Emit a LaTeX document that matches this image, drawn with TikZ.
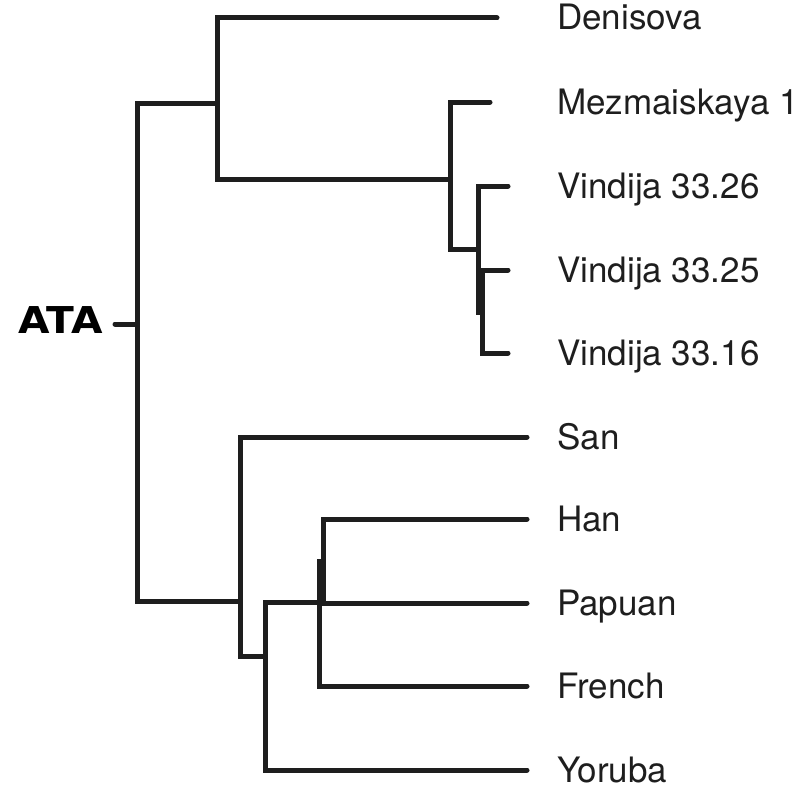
\documentclass[tikz,border=0pt]{standalone}
\usepackage{fontspec}
\setmainfont{TeX Gyre Heros}
\newfontfamily\atafont{DejaVu Sans}
\definecolor{ink}{HTML}{1E1E1E}
\begin{document}
\begin{tikzpicture}[x=1pt,y=-1pt,
  branch/.style={draw=ink,line width=5pt,line cap=round,line join=miter},
  taxon/.style={anchor=base west,inner sep=0pt,text=ink,font=\fontsize{35}{40}\selectfont},
  rootlabel/.style={anchor=base east,inner sep=0pt,text=black,xscale=1.1,font=\atafont\bfseries\fontsize{37}{44}\selectfont}]
\useasboundingbox (0,0) rectangle (806,792);

% tips (branch ends)
\coordinate (den) at (497,18);
\coordinate (mez) at (490,102);
\coordinate (v26) at (508,186);
\coordinate (v25) at (508,270);
\coordinate (v16) at (508,353);
\coordinate (san) at (527,437);
\coordinate (han) at (527,519);
\coordinate (pap) at (527,603);
\coordinate (fre) at (527,686);
\coordinate (yor) at (527,770);

% internal nodes
\coordinate (r)     at (137,324);
\coordinate (a0)    at (115,324);
\coordinate (t)     at (217,103);
\coordinate (nea)   at (450,179);
\coordinate (vin)   at (478,249);
\coordinate (v2516) at (482,312);
\coordinate (b)     at (240,601);
\coordinate (nb)    at (265,656);
\coordinate (oa)    at (319,602);
\coordinate (hp)    at (323,561);

% labels
\node[taxon] (lden) at (557,30) {Denisova};
\node[taxon] (lmez) at (557,114) {Mezmaiskaya 1};
\node[taxon] (lv26) at (557,198) {Vindija 33.26};
\node[taxon] (lv25) at (557,282) {Vindija 33.25};
\node[taxon] (lv16) at (557,365) {Vindija 33.16};
\node[taxon] (lsan) at (557,449) {San};
\node[taxon] (lhan) at (557,531) {Han};
\node[taxon] (lpap) at (557,615) {Papuan};
\node[taxon] (lfre) at (557,698) {French};
\node[taxon] (lyor) at (557,782) {Yoruba};
\node[rootlabel] (ata) at (103,333) {ATA};

% tree
\draw[branch] (a0) -- (r);
\draw[branch] (t) -| (r) |- (b);
\draw[branch] (den) -| (t) |- (nea);
\draw[branch] (mez) -| (nea) |- (vin);
\draw[branch] (v26) -| (vin) |- (v2516);
\draw[branch] (v25) -| (v2516) |- (v16);
\draw[branch] (san) -| (b) |- (nb);
\draw[branch] (oa) -| (nb) |- (yor);
\draw[branch] (hp) -| (oa) |- (fre);
\draw[branch] (han) -| (hp) |- (pap);
\end{tikzpicture}
\end{document}
